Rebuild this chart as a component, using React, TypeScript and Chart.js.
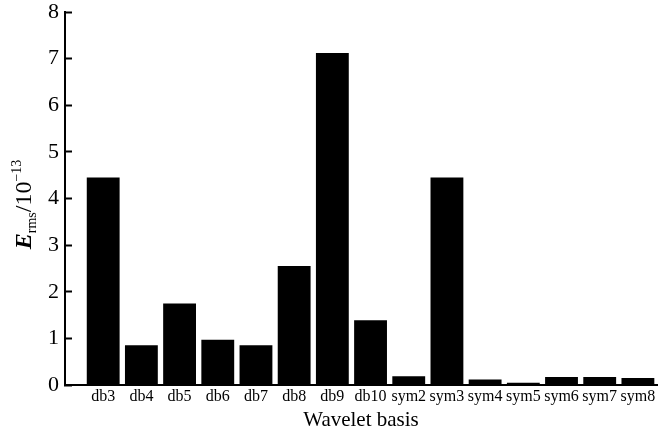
import React, { useEffect, useRef } from "react";
import { Chart, registerables } from "chart.js";

Chart.register(...registerables);

const categories = [
  "db3", "db4", "db5", "db6", "db7", "db8", "db9", "db10",
  "sym2", "sym3", "sym4", "sym5", "sym6", "sym7", "sym8",
];
const ermsValues = [
  4.45, 0.85, 1.75, 0.97, 0.85, 2.55, 7.12, 1.39,
  0.19, 4.45, 0.12, 0.05, 0.17, 0.17, 0.15,
];
const yTicks = [0, 1, 2, 3, 4, 5, 6, 7, 8];
const xTitle = "Wavelet basis";

const FONT = "'Liberation Serif', 'Times New Roman', serif";

const yTitlePlugin = {
  id: "yTitleRich",
  afterDraw(chart: any) {
    const { ctx, chartArea } = chart;
    const cy = (chartArea.top + chartArea.bottom) / 2 + 6;
    const baseX = 31;
    ctx.save();
    ctx.translate(baseX, cy);
    ctx.rotate(-Math.PI / 2);
    ctx.fillStyle = "#000";
    ctx.textBaseline = "alphabetic";
    ctx.textAlign = "left";
    const parts = [
      { t: "E", f: `italic bold 24px ${FONT}`, dy: 0 },
      { t: "rms", f: `14px ${FONT}`, dy: 5 },
      { t: "/10", f: `24px ${FONT}`, dy: 0 },
      { t: "\u221213", f: `14px ${FONT}`, dy: -10 },
    ];
    let total = 0;
    for (const p of parts) {
      ctx.font = p.f;
      total += ctx.measureText(p.t).width;
    }
    let x = -total / 2;
    for (const p of parts) {
      ctx.font = p.f;
      ctx.fillText(p.t, x, p.dy);
      x += ctx.measureText(p.t).width;
    }
    ctx.restore();
  },
};

export default function App() {
  const ref = useRef<HTMLCanvasElement>(null);
  useEffect(() => {
    document.body.style.margin = "0";
    const canvas = ref.current!;
    const chart = new Chart(canvas, {
      type: "bar",
      data: {
        datasets: [
          {
            data: ermsValues.map((v, i) => ({ x: i, y: v })),
            backgroundColor: "#000",
            borderWidth: 0,
            barPercentage: 0.86,
            categoryPercentage: 1,
          },
        ],
      },
      options: {
        animation: false,
        responsive: false,
        maintainAspectRatio: false,
        layout: { padding: { top: 0, right: 11, left: 0, bottom: 0 } },
        plugins: {
          legend: { display: false },
          tooltip: { enabled: false },
        },
        scales: {
          x: {
            type: "linear",
            min: -1,
            max: 14.5,
            offset: false,
            afterBuildTicks: (s: any) => {
              s.ticks = categories.map((_, i) => ({ value: i }));
            },
            grid: { display: false, drawTicks: false, offset: false },
            border: { display: true, color: "#000", width: 2 },
            ticks: {
              autoSkip: false,
              maxRotation: 0,
              padding: 2,
              color: "#000",
              font: { family: FONT, size: 16 },
              callback: (v: any) =>
                Number.isInteger(v) && categories[v] ? categories[v] : "",
            },
            title: {
              display: true,
              text: xTitle,
              color: "#000",
              font: { family: FONT, size: 21 },
              padding: { top: 0, bottom: 0 },
            },
            afterFit: (s: any) => {
              s.height = 48;
              s.paddingLeft = 0;
              s.paddingRight = 0;
            },
          },
          y: {
            min: 0,
            max: 8,
            afterBuildTicks: (s: any) => {
              s.ticks = yTicks.map((v) => ({ value: v }));
            },
            grid: {
              display: true,
              drawOnChartArea: false,
              drawTicks: true,
              tickLength: -7,
              tickWidth: 2,
              color: "#000",
            },
            border: { display: true, color: "#000", width: 2 },
            ticks: {
              padding: 13,
              color: "#000",
              font: { family: FONT, size: 22 },
            },
            afterFit: (s: any) => {
              s.width = 65;
              s.paddingTop = 12;
              s.paddingBottom = 0;
            },
          },
        },
      },
      plugins: [yTitlePlugin],
    });
    return () => chart.destroy();
  }, []);
  return (
    <div style={{ position: "absolute", left: 0, top: 0, width: 668, height: 433, background: "#fff" }}>
      <canvas ref={ref} width={668} height={433} />
    </div>
  );
}
